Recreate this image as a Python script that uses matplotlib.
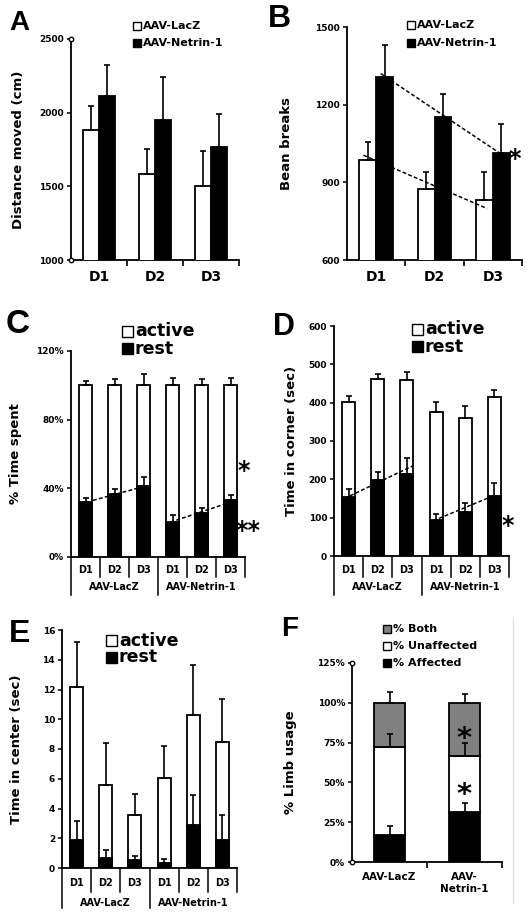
import numpy as np
import matplotlib.pyplot as plt
from matplotlib.patches import Rectangle
from matplotlib.ticker import FuncFormatter

plt.rcParams['font.family'] = ['DejaVu Sans']
plt.rcParams['font.weight'] = 'bold'
plt.rcParams['axes.labelweight'] = 'bold'

# ---- data ----
days = ['D1', 'D2', 'D3']
groups = ['AAV-LacZ', 'AAV-Netrin-1']

# A: distance moved (cm)
dist_lacz = [1880, 1585, 1503]
dist_lacz_err = [167, 167, 236]
dist_netrin = [2115, 1952, 1770]
dist_netrin_err = [211, 290, 220]

# B: beam breaks
beam_lacz = [988, 873, 831]
beam_lacz_err = [68, 68, 110]
beam_netrin = [1307, 1153, 1014]
beam_netrin_err = [122, 90, 111]
beam_trend_lacz_x = [-0.22, 1.9]
beam_trend_lacz_y = [1005, 799]
beam_trend_netrin_x = [0.08, 2.11]
beam_trend_netrin_y = [1320, 1014]

# C: % time spent (LacZ D1-D3, Netrin D1-D3)
pct_total = [100, 100, 100, 100, 100, 100]
pct_total_err = [2.7, 3.7, 6.4, 4.0, 3.7, 4.0]
pct_rest = [32.0, 36.9, 41.1, 20.3, 25.6, 33.0]
pct_rest_err = [2.3, 2.7, 5.4, 3.9, 2.9, 3.3]
pct_trend_lacz_x = [0.26, 2.15]
pct_trend_lacz_y = [33.0, 41.7]
pct_trend_netrin_x = [2.93, 5.1]
pct_trend_netrin_y = [20.3, 32.5]

# D: time in corner (sec)
corner_total = [403, 462, 458, 376, 361, 416]
corner_total_err = [15, 12, 21, 27, 31, 17]
corner_rest = [155, 197, 214, 94, 116, 157]
corner_rest_err = [19, 23, 41, 15, 23, 33]
corner_trend_lacz_x = [0.05, 2.2]
corner_trend_lacz_y = [157, 235]
corner_trend_netrin_x = [3.1, 4.8]
corner_trend_netrin_y = [98, 152]

# E: time in center (sec)
center_total = [12.2, 5.6, 3.55, 6.05, 10.3, 8.45]
center_total_err = [3.0, 2.77, 1.4, 2.15, 3.35, 2.9]
center_rest = [1.9, 0.7, 0.52, 0.34, 2.87, 1.9]
center_rest_err = [1.24, 0.53, 0.27, 0.29, 2.07, 1.65]

# F: limb usage (%)
limb_affected = [17.2, 31.5]
limb_affected_err = [5.5, 5.7]
limb_unaffected = [55.3, 35.3]
limb_unaffected_err = [8.0, 7.8]
limb_both = [27.5, 33.2]
limb_both_err = [6.5, 5.7]

W, H = 531, 917
fig = plt.figure(figsize=(W / 100, H / 100), dpi=100)
LW = 1.3


def add_ax(x0, y0, x1, y1):
    return fig.add_axes([x0 / W, 1 - y1 / H, (x1 - x0) / W, (y1 - y0) / H])


def style(ax, ylabel, label_x):
    for s in ['top', 'right']:
        ax.spines[s].set_visible(False)
    for s in ['left', 'bottom']:
        ax.spines[s].set_linewidth(LW)
    ax.tick_params(axis='y', length=3, width=1.1, labelsize=6.5, pad=2)
    ax.set_ylabel(ylabel, fontsize=9.5)
    pos = ax.get_position()
    ax.yaxis.set_label_coords((label_x / W - pos.x0) / pos.width, 0.5)


def errbar(ax, x, y, err):
    ax.errorbar(x, y, yerr=[np.zeros(len(err)), err], fmt='none', ecolor='black',
                elinewidth=1.2, capsize=2.5, capthick=1.2, zorder=4)


def legend_box(x, y, w, color, text, size):
    fig.patches.append(Rectangle((x / W, 1 - (y + w) / H), w / W, w / H,
                                 transform=fig.transFigure, fc=color, ec='black', lw=1))
    fig.text((x + w + 2) / W, 1 - (y + w / 2) / H, text, fontsize=size,
             va='center', ha='left')


def panel_letter(x, y, letter, size):
    fig.text(x / W, 1 - y / H, letter, fontsize=size, fontweight='bold',
             family='Liberation Sans', va='baseline', ha='left')


def end_markers(ax, x, ys):
    ax.plot([x] * len(ys), ys, 'o', ms=3.2, mfc='white', mec='black', mew=1,
            clip_on=False, zorder=5)


def star(ax, x, y, s, size=17):
    ax.text(x, y, s, fontsize=size, ha='center', va='center', clip_on=False,
            zorder=6)


def grouped(ax, a, a_err, b, b_err):
    x = np.arange(len(days))
    w = 0.29
    ax.bar(x - w / 2, a, w, color='white', edgecolor='black', lw=LW, zorder=3)
    ax.bar(x + w / 2, b, w, color='black', edgecolor='black', lw=LW, zorder=3)
    errbar(ax, x - w / 2, a, a_err)
    errbar(ax, x + w / 2, b, b_err)
    ax.set_xlim(-0.5, 2.5)
    ax.set_xticks(x)
    ax.set_xticklabels(days, fontsize=10)
    ax.tick_params(axis='x', which='major', length=0, pad=7)
    ax.set_xticks([0.5, 1.5, 2.5], minor=True)
    ax.tick_params(axis='x', which='minor', length=4, width=1.2)


def day_table(ax, d_lab, d_short, g_lab, d_long):
    tr = ax.get_xaxis_transform()
    hpx = ax.get_position().height * H
    for i in range(6):
        ax.text(i, -d_lab / hpx, days[i % 3], transform=tr, ha='center',
                va='center', fontsize=7)
    for xb in [0.5, 1.5, 3.5, 4.5, 5.5]:
        ax.plot([xb, xb], [0, -d_short / hpx], transform=tr, clip_on=False,
                color='black', lw=1.1)
    for xb in [-0.5, 2.5]:
        ax.plot([xb, xb], [0, -d_long / hpx], transform=tr, clip_on=False,
                color='black', lw=1.1)
    for j, g in enumerate(groups):
        ax.text(1 + 3 * j, -g_lab / hpx, g, transform=tr, ha='center',
                va='center', fontsize=7)
    ax.set_xlim(-0.5, 5.5)
    ax.set_xticks([])


def stacked6(ax, total, total_err, rest, rest_err):
    x = np.arange(6)
    w = 0.45
    ax.bar(x, total, w, color='white', edgecolor='black', lw=LW, zorder=3)
    ax.bar(x, rest, w, color='black', edgecolor='black', lw=LW, zorder=3)
    errbar(ax, x, total, total_err)
    errbar(ax, x, rest, rest_err)


def trend(ax, xs, ys):
    ax.plot(xs, ys, ls=(0, (2.5, 1.5)), color='black', lw=1.1, zorder=5)


# ---- A ----
axA = add_ax(71, 39, 239, 260)
grouped(axA, dist_lacz, dist_lacz_err, dist_netrin, dist_netrin_err)
axA.set_ylim(1000, 2500)
axA.set_yticks([1000, 1500, 2000, 2500])
style(axA, 'Distance moved (cm)', 25)
end_markers(axA, -0.5, [1000, 2500])
legend_box(133, 22, 8, 'white', 'AAV-LacZ', 8)
legend_box(133, 39, 8, 'black', 'AAV-Netrin-1', 8)
panel_letter(9, 30, 'A', 20)

# ---- B ----
axB = add_ax(347, 27, 522, 260)
grouped(axB, beam_lacz, beam_lacz_err, beam_netrin, beam_netrin_err)
axB.set_ylim(600, 1500)
axB.set_yticks([600, 900, 1200, 1500])
style(axB, 'Bean breaks', 293)
trend(axB, beam_trend_lacz_x, beam_trend_lacz_y)
trend(axB, beam_trend_netrin_x, beam_trend_netrin_y)
star(axB, 2.37, beam_netrin[2] - 25, '*')
legend_box(407, 21, 8, 'white', 'AAV-LacZ', 8)
legend_box(407, 39, 8, 'black', 'AAV-Netrin-1', 8)
panel_letter(268, 27, 'B', 23)

# ---- C ----
axC = add_ax(71, 351, 245, 557)
stacked6(axC, pct_total, pct_total_err, pct_rest, pct_rest_err)
axC.set_ylim(0, 120)
axC.set_yticks([0, 40, 80, 120])
axC.yaxis.set_major_formatter(FuncFormatter(lambda v, p: f'{v:.0f}%'))
style(axC, '% Time spent', 22)
day_table(axC, 13, 20, 30, 38)
trend(axC, pct_trend_lacz_x, pct_trend_lacz_y)
trend(axC, pct_trend_netrin_x, pct_trend_netrin_y)
star(axC, 5.45, 50, '*')
star(axC, 5.62, 15, '**')
legend_box(122, 326, 11, 'white', 'active', 12.5)
legend_box(122, 343, 11, 'black', 'rest', 12.5)
panel_letter(6, 333, 'C', 24)

# ---- D ----
axD = add_ax(334, 326, 509, 556)
stacked6(axD, corner_total, corner_total_err, corner_rest, corner_rest_err)
axD.set_ylim(0, 600)
axD.set_yticks(range(0, 601, 100))
style(axD, 'Time in corner (sec)', 298)
day_table(axD, 14, 21, 31, 39)
trend(axD, corner_trend_lacz_x, corner_trend_lacz_y)
trend(axD, corner_trend_netrin_x, corner_trend_netrin_y)
star(axD, 5.47, 78, '*')
legend_box(412, 324, 11, 'white', 'active', 12.5)
legend_box(412, 341, 11, 'black', 'rest', 12.5)
panel_letter(273, 335, 'D', 22)

# ---- E ----
axE = add_ax(62, 630, 237, 868)
stacked6(axE, center_total, center_total_err, center_rest, center_rest_err)
axE.set_ylim(0, 16)
axE.set_yticks(range(0, 17, 2))
style(axE, 'Time in center (sec)', 23)
day_table(axE, 15, 24, 35, 40)
legend_box(106, 635, 11, 'white', 'active', 12.5)
legend_box(106, 652, 11, 'black', 'rest', 12.5)
panel_letter(9, 642, 'E', 23)

# ---- F ----
axF = add_ax(352, 663, 502, 862)
xf = np.arange(2)
wf = 0.42
bottom2 = np.array(limb_affected) + np.array(limb_unaffected)
axF.bar(xf, limb_affected, wf, color='black', edgecolor='black', lw=LW, zorder=3)
axF.bar(xf, limb_unaffected, wf, bottom=limb_affected, color='white',
        edgecolor='black', lw=LW, zorder=3)
axF.bar(xf, limb_both, wf, bottom=bottom2, color='#808080', edgecolor='black',
        lw=LW, zorder=3)
errbar(axF, xf, limb_affected, limb_affected_err)
errbar(axF, xf, bottom2, limb_unaffected_err)
errbar(axF, xf, bottom2 + np.array(limb_both), limb_both_err)
axF.set_xlim(-0.5, 1.5)
axF.set_ylim(0, 125)
axF.set_yticks([0, 25, 50, 75, 100, 125])
axF.yaxis.set_major_formatter(FuncFormatter(lambda v, p: f'{v:.0f}%'))
axF.set_xticks(xf)
axF.set_xticklabels(['AAV-LacZ', 'AAV-\nNetrin-1'], fontsize=7.5, linespacing=1.3)
axF.tick_params(axis='x', which='major', length=0, pad=7)
axF.set_xticks([0.5, 1.5], minor=True)
axF.tick_params(axis='x', which='minor', length=4, width=1.2)
style(axF, '% Limb usage', 297)
end_markers(axF, -0.5, [0, 125])
star(axF, 1, 77, '*', 21)
star(axF, 1, 42, '*', 21)
legend_box(383, 625, 8, '#808080', '% Both', 8)
legend_box(383, 642, 8, 'white', '% Unaffected', 8)
legend_box(383, 659, 8, 'black', '% Affected', 8)
panel_letter(281, 636, 'F', 20)
fig.add_artist(plt.Line2D([513 / W, 513 / W], [1 - 903 / H, 1 - 617 / H],
                          color='#e4e4e4', lw=1))

fig.savefig('out.png', dpi=100)
